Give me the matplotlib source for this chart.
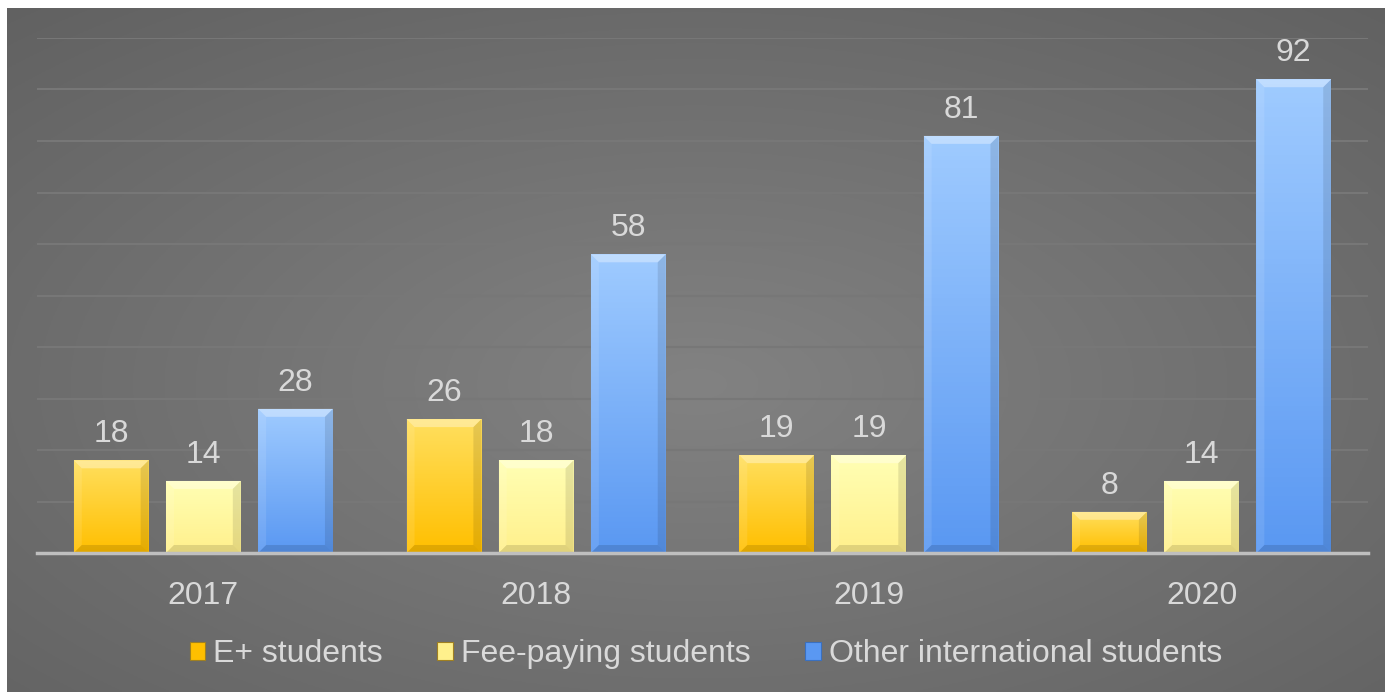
import numpy as np
import matplotlib
matplotlib.use('Agg')
import matplotlib.pyplot as plt
from matplotlib.patches import Polygon, Patch
from matplotlib.colors import to_rgb, LinearSegmentedColormap

plt.rcParams['font.family'] = ['Liberation Sans', 'DejaVu Sans']

# ---------- Data ----------
years = ['2017', '2018', '2019', '2020']
series_names = ['E+ students', 'Fee-paying students', 'Other international students']
eplus = [18, 26, 19, 8]
fee_paying = [14, 18, 19, 14]
other_intl = [28, 58, 81, 92]
series_values = [eplus, fee_paying, other_intl]

# gradient (top, bottom) per series
series_colors = [('#ffdf5e', '#ffbf00'), ('#ffffb4', '#fff08c'), ('#9fcbff', '#5a98f2')]
text_col = '#d9d9d9'

W, H, DPI = 1385, 692, 100
fig = plt.figure(figsize=(W / DPI, H / DPI), dpi=DPI, facecolor='white')

# ---------- background (radial gradient) ----------
bg = fig.add_axes([7 / W, 0, 1 - 7 / W, 1 - 8 / H])
bg.set_axis_off()
yy, xx = np.mgrid[0:1:300j, 0:1:600j]
r = np.sqrt(((xx - 0.5) / 0.75) ** 2 + ((yy - 0.45) / 0.75) ** 2)
r = np.clip(r, 0, 1)
c_in, c_out = np.array(to_rgb('#828282')), np.array(to_rgb('#616161'))
img = c_in[None, None, :] * (1 - r[..., None]) + c_out[None, None, :] * r[..., None]
bg.imshow(img, extent=[0, 1, 0, 1], aspect='auto', origin='lower')
bg.set_xlim(0, 1)
bg.set_ylim(0, 1)

# ---------- main axes ----------
ax = fig.add_axes([37 / W, 139 / H, (1368 - 37) / W, (654 - 139) / H])
ax.patch.set_alpha(0)
ax.set_xlim(-0.5, 3.5)
ax.set_ylim(0, 100)
ax.set_yticks(np.arange(10, 101, 10))
ax.yaxis.grid(True, color='#777777', linewidth=1.5)
ax.set_axisbelow(True)
for s in ['top', 'right', 'left']:
    ax.spines[s].set_visible(False)
ax.spines['bottom'].set_color('#bfbfbf')
ax.spines['bottom'].set_linewidth(2.5)
ax.spines['bottom'].set_zorder(5)
ax.tick_params(axis='y', left=False, labelleft=False)
ax.tick_params(axis='x', bottom=False, labelsize=23, labelcolor=text_col, pad=17)
x = np.arange(len(years))
ax.set_xticks(x)
ax.set_xticklabels(years)

# pixel -> data conversion for bevels
pos = ax.get_position()
px_x = 4 / (pos.width * W)
px_y = 100 / (pos.height * H)
bev = 8

width = 0.225
step = 0.277
for i, (vals, (ctop, cbot)) in enumerate(zip(series_values, series_colors)):
    offs = (i - 1) * step
    bars = ax.bar(x + offs, vals, width, color=cbot, edgecolor='none', zorder=2)
    cmap = LinearSegmentedColormap.from_list('g%d' % i, [cbot, ctop])
    for b, v in zip(bars, vals):
        x0, x1 = b.get_x(), b.get_x() + b.get_width()
        y1 = b.get_height()
        grad = np.linspace(0, 1, 100).reshape(-1, 1)
        im = ax.imshow(grad, extent=[x0, x1, 0, y1], origin='lower', aspect='auto',
                       cmap=cmap, zorder=3)
        im.set_clip_path(b)
        dx, dy = bev * px_x, bev * px_y
        # top bevel lighter
        ax.add_patch(Polygon([[x0, y1], [x1, y1], [x1 - dx, y1 - dy], [x0 + dx, y1 - dy]],
                             closed=True, facecolor='white', alpha=0.35, edgecolor='none', zorder=4))
        # left bevel
        ax.add_patch(Polygon([[x0, 0], [x0, y1], [x0 + dx, y1 - dy], [x0 + dx, dy]],
                             closed=True, facecolor='white', alpha=0.10, edgecolor='none', zorder=4))
        # right bevel darker
        ax.add_patch(Polygon([[x1, 0], [x1, y1], [x1 - dx, y1 - dy], [x1 - dx, dy]],
                             closed=True, facecolor='black', alpha=0.10, edgecolor='none', zorder=4))
        # bottom bevel darker
        ax.add_patch(Polygon([[x0, 0], [x1, 0], [x1 - dx, dy], [x0 + dx, dy]],
                             closed=True, facecolor='black', alpha=0.12, edgecolor='none', zorder=4))
        ax.annotate(str(v), (b.get_x() + b.get_width() / 2, y1), xytext=(0, 8),
                    textcoords='offset points', ha='center', va='bottom',
                    fontsize=23, color=text_col, zorder=6)

handles = [Patch(facecolor=c[1], edgecolor='#a08020' if i < 2 else '#3a70c0', linewidth=0.8)
           for i, c in enumerate(series_colors)]
leg = fig.legend(handles, series_names, loc='center', bbox_to_anchor=(706 / W, 38 / H), ncol=3,
                 frameon=False, fontsize=23, handlelength=0.5, handleheight=0.5,
                 handletextpad=0.25, columnspacing=1.7, labelcolor=text_col)

fig.savefig('out.png', dpi=DPI, facecolor='white')
